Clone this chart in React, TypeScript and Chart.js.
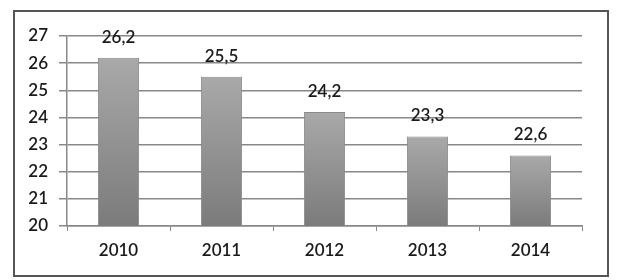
import React, { useEffect, useRef } from "react";
import { Chart, registerables } from "chart.js";

Chart.register(...registerables);

const categories = ["2010", "2011", "2012", "2013", "2014"];
const values = [26.2, 25.5, 24.2, 23.3, 22.6];
const yMin = 20;
const yMax = 27;

const FONT = "Lato, 'Open Sans', sans-serif";
const WEIGHT = "600";

export default function App() {
  const ref = useRef<HTMLCanvasElement | null>(null);

  useEffect(() => {
    document.body.style.margin = "0";
    const canvas = ref.current;
    if (!canvas) return;

    const framePlugin = {
      id: "frame",
      beforeDraw(chart: any) {
        const ctx = chart.ctx;
        ctx.save();
        ctx.fillStyle = "#ffffff";
        ctx.fillRect(0, 0, chart.width, chart.height);
        ctx.strokeStyle = "#555555";
        ctx.lineWidth = 2;
        ctx.strokeRect(14, 11, 594, 265);
        ctx.restore();
      },
    };

    const labelPlugin = {
      id: "valueLabels",
      afterDatasetsDraw(chart: any) {
        const ctx = chart.ctx;
        const meta = chart.getDatasetMeta(0);
        ctx.save();
        ctx.fillStyle = "#1a1a1a";
        ctx.font = `${WEIGHT} 17px ${FONT}`;
        ctx.textAlign = "center";
        ctx.textBaseline = "bottom";
        meta.data.forEach((bar: any, i: number) => {
          const txt = values[i].toFixed(1).replace(".", ",");
          ctx.fillText(txt, bar.x, bar.y - 12);
        });
        ctx.restore();
      },
    };

    const chart = new Chart(canvas, {
      type: "bar",
      data: {
        labels: categories,
        datasets: [
          {
            data: values,
            barPercentage: 0.4,
            categoryPercentage: 1,
            borderWidth: 1,
            borderColor: "#8a8a8a",
            backgroundColor: (c: any) => {
              const ch = c.chart;
              const area = ch.chartArea;
              if (!area) return "#999999";
              const yScale = ch.scales.y;
              const v = values[c.dataIndex] ?? yMax;
              const top = yScale.getPixelForValue(v);
              const g = ch.ctx.createLinearGradient(0, top, 0, area.bottom);
              g.addColorStop(0, "#a9a9a9");
              g.addColorStop(1, "#7b7b7b");
              return g;
            },
          },
        ],
      },
      options: {
        responsive: false,
        animation: false,
        devicePixelRatio: 1,
        layout: { padding: { top: 36, right: 38, left: 0, bottom: 0 } },
        plugins: {
          legend: { display: false },
          tooltip: { enabled: false },
        },
        scales: {
          x: {
            offset: true,
            afterFit: (s: any) => {
              s.height = 54;
            },
            grid: {
              display: true,
              drawOnChartArea: false,
              drawTicks: true,
              tickLength: 5,
              color: "#888888",
              lineWidth: 1,
            },
            border: { display: true, color: "#888888", width: 1.5 },
            ticks: {
              color: "#1a1a1a",
              font: { family: FONT, size: 17, weight: WEIGHT },
              padding: 9,
            },
          },
          y: {
            min: yMin,
            max: yMax,
            afterFit: (s: any) => {
              s.width = 67;
            },
            grid: {
              color: "#888888",
              lineWidth: 1.5,
              drawTicks: true,
              tickLength: 8,
            },
            border: { display: true, color: "#888888", width: 1.5 },
            ticks: {
              stepSize: 1,
              color: "#1a1a1a",
              font: { family: FONT, size: 17, weight: WEIGHT },
              padding: 11,
            },
          },
        },
      },
      plugins: [framePlugin, labelPlugin],
    });

    return () => chart.destroy();
  }, []);

  return (
    <div style={{ position: "absolute", left: 0, top: 0, width: 620, height: 280 }}>
      <canvas ref={ref} width={620} height={280} />
    </div>
  );
}
